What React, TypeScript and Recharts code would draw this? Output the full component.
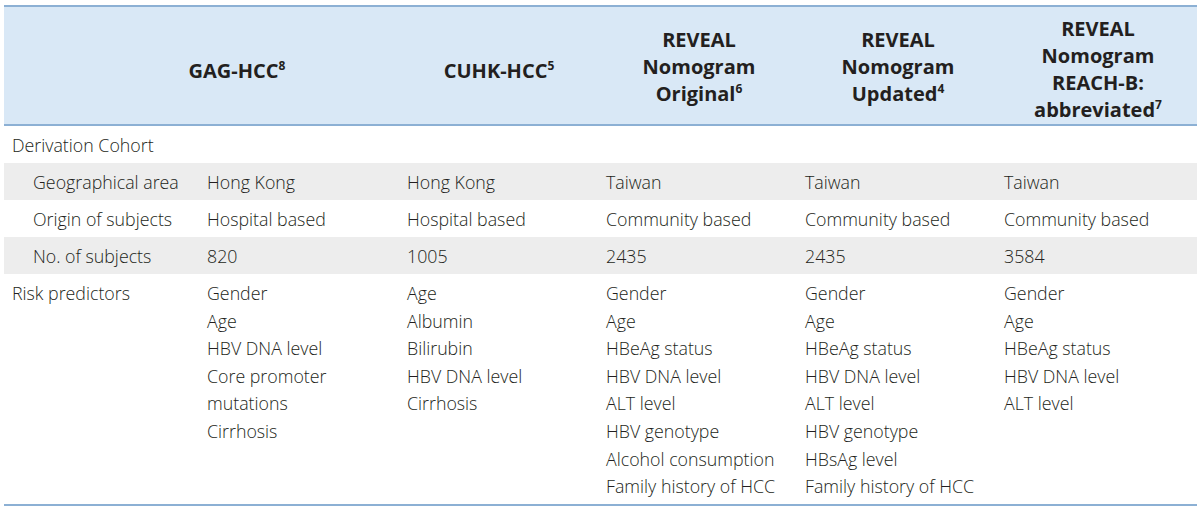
import React from 'react';
import { Surface, Layer, Rectangle, Text } from 'recharts';

// header text of each model column, one entry per line
const headerLines = [
  ['GAG-HCC'],
  ['CUHK-HCC'],
  ['REVEAL', 'Nomogram', 'Original'],
  ['REVEAL', 'Nomogram', 'Updated'],
  ['REVEAL', 'Nomogram', 'REACH-B:', 'abbreviated'],
];
const headerRefs = ['8', '5', '6', '4', '7'];

const sectionLabel = 'Derivation Cohort';
const subRowLabels = ['Geographical area', 'Origin of subjects', 'No. of subjects'];
const geoArea = ['Hong Kong', 'Hong Kong', 'Taiwan', 'Taiwan', 'Taiwan'];
const subjectOrigin = ['Hospital based', 'Hospital based', 'Community based', 'Community based', 'Community based'];
const subjectCount = ['820', '1005', '2435', '2435', '3584'];

const predictorLabel = 'Risk predictors';
const predictors = [
  ['Gender', 'Age', 'HBV DNA level', 'Core promoter', 'mutations', 'Cirrhosis'],
  ['Age', 'Albumin', 'Bilirubin', 'HBV DNA level', 'Cirrhosis'],
  ['Gender', 'Age', 'HBeAg status', 'HBV DNA level', 'ALT level', 'HBV genotype', 'Alcohol consumption', 'Family history of HCC'],
  ['Gender', 'Age', 'HBeAg status', 'HBV DNA level', 'ALT level', 'HBV genotype', 'HBsAg level', 'Family history of HCC'],
  ['Gender', 'Age', 'HBeAg status', 'HBV DNA level', 'ALT level'],
];

const W = 1200;
const H = 511;
const left = 4;
const right = 1197;
const colX = [207, 407, 606, 805, 1004];
const headCenter = [237, 499, 699, 898, 1098];
const FONT = '"Open Sans", sans-serif';
const INK = '#231f20';
const BORDER = '#8cb0d4';
const BODY = 17.8;

// vertical middle of the header block, by number of lines
const headMid = (n: number) => (n === 1 ? 77.5 : n === 3 ? 73.5 : 76);

const App = () => {
  const subRows = [geoArea, subjectOrigin, subjectCount];
  const rowTop = [163, 200, 237];
  const rowBase = [189, 226, 263];
  const lh = 27.6;
  const headLh = 27;

  return (
    <div style={{ position: 'absolute', left: 0, top: 0 }}>
      <Surface width={W} height={H}>
        <Rectangle x={left} y={6} width={right - left} height={119} fill="#d9e8f6" />
        {rowTop.map((y, i) => (i % 2 === 0 ? <Rectangle key={i} x={left} y={y} width={right - left} height={37} fill="#ededed" /> : null))}
        <line x1={left} x2={right} y1={6} y2={6} stroke={BORDER} strokeWidth={2} />
        <line x1={left} x2={right} y1={125} y2={125} stroke={BORDER} strokeWidth={2} />
        <line x1={left} x2={right} y1={505} y2={505} stroke={BORDER} strokeWidth={2} />

        <Layer>
          {headerLines.map((lines, c) => {
            const first = headMid(lines.length) - ((lines.length - 1) * headLh) / 2;
            return lines.map((t, j) => (
              <text key={`${c}-${j}`} x={headCenter[c]} y={first + j * headLh} textAnchor="middle" fontFamily={FONT}
                fontWeight={700} fontSize={20} fill={INK}>
                {t}
                {j === lines.length - 1 ? <tspan fontSize={12} dy={-8}>{headerRefs[c]}</tspan> : null}
              </text>
            ));
          })}
        </Layer>

        <Layer>
          <Text x={12} y={152} fontFamily={FONT} fontSize={BODY} fontWeight={300} fill={INK}>{sectionLabel}</Text>
          {subRowLabels.map((label, r) => (
            <Layer key={label}>
              <Text x={33} y={rowBase[r]} fontFamily={FONT} fontSize={BODY} fontWeight={300} fill={INK}>{label}</Text>
              {subRows[r].map((v, c) => (
                <Text key={c} x={colX[c]} y={rowBase[r]} fontFamily={FONT} fontSize={BODY} fontWeight={300} fill={INK}>{v}</Text>
              ))}
            </Layer>
          ))}

          <Text x={12} y={300} fontFamily={FONT} fontSize={BODY} fontWeight={300} fill={INK}>{predictorLabel}</Text>
          {predictors.map((list, c) => list.map((p, j) => (
            <Text key={`${c}-${j}`} x={colX[c]} y={300 + j * lh} fontFamily={FONT} fontSize={BODY} fontWeight={300} fill={INK}>{p}</Text>
          )))}
        </Layer>
      </Surface>
    </div>
  );
};

export default App;
